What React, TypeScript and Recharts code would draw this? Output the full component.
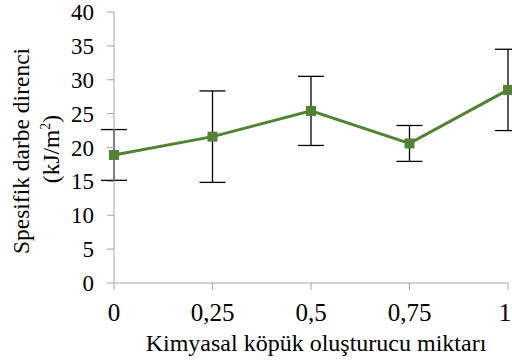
import * as React from "react";
import { LineChart, Line, XAxis, YAxis, ErrorBar } from "recharts";

const amounts = [0, 0.25, 0.5, 0.75, 1];
const impact = [18.9, 21.6, 25.4, 20.6, 28.5];
const stdDev = [3.75, 6.75, 5.1, 2.65, 6.0];
const yTicks = [0, 5, 10, 15, 20, 25, 30, 35, 40];

const data = amounts.map((x, i) => ({ x: x, value: impact[i], err: stdDev[i] }));

const FONT = "'Liberation Serif', 'Times New Roman', serif";
const AXIS_GRAY = "#a6a6a6";
const GREEN = "#548235";

const SquareDot = (props: any) => {
    const { cx, cy } = props;
    if (cx == null || cy == null) return null;
    return <rect x={cx - 5} y={cy - 5} width={10} height={10} fill={GREEN} />;
};

const XTick = (props: any) => {
    const { x, payload } = props;
    // keep the last label inside the 512px frame
    const tx = Math.min(x, 505);
    return <text x={tx} y={321} textAnchor="middle" fontFamily={FONT} fontSize={25} fill="#000">
        {String(payload.value).replace(".", ",")}
    </text>;
};

const YTick = (props: any) => {
    const { y, payload } = props;
    return <text x={94} y={y + 8} textAnchor="end" fontFamily={FONT} fontSize={23} fill="#000">
        {payload.value}
    </text>;
};

const YTitle = () => (
    <g fontFamily={FONT} fontSize={23.5} fill="#000">
        <text transform="translate(29,151) rotate(-90)" textAnchor="middle">Spesifik darbe direnci</text>
        <text transform="translate(59,149) rotate(-90)" textAnchor="middle">
            (kJ/m<tspan dy={-9} fontSize={14}>2</tspan><tspan dy={9}>)</tspan>
        </text>
    </g>
);

const XTitle = () => (
    <text x={316} y={351} textAnchor="middle" fontFamily={FONT} fontSize={24} fill="#000">
        Kimyasal köpük oluşturucu miktarı
    </text>
);

const App = () => {
    return <div style={{ position: "absolute", left: 0, top: 0, width: 512, height: 363, background: "#fff", fontFamily: FONT }}>
        <LineChart width={512} height={363} data={data} margin={{ top: 12, right: 4, bottom: 0, left: 0 }}>
            <XAxis dataKey="x" type="number" domain={[0, 1]} ticks={amounts}
                stroke={AXIS_GRAY} tickSize={7} height={80} tick={<XTick />}
                label={{ content: () => <XTitle /> }} />
            <YAxis domain={[0, 40]} ticks={yTicks} interval={0} width={114}
                stroke={AXIS_GRAY} tickSize={7} tick={<YTick />}
                label={{ content: () => <YTitle /> }} />
            <Line dataKey="value" stroke={GREEN} strokeWidth={3} dot={<SquareDot />} isAnimationActive={false}>
                <ErrorBar dataKey="err" width={13} stroke="#000" strokeWidth={1.3} direction="y" isAnimationActive={false} />
            </Line>
        </LineChart>
    </div>;
};

export default App;
